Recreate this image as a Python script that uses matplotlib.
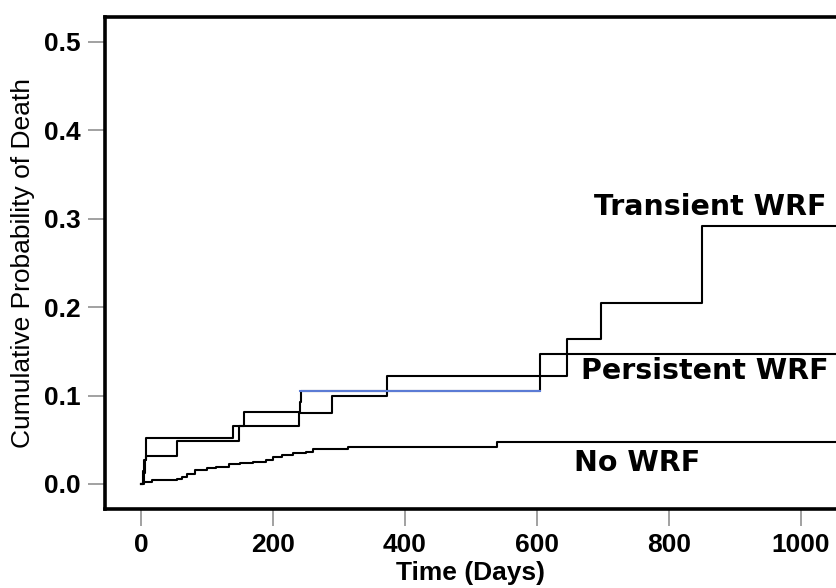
import matplotlib
matplotlib.use("Agg")
import matplotlib.pyplot as plt

# --- data (days, cumulative probability) ---
transient_days = [0, 4, 6, 7, 55, 149, 239, 289, 372, 645, 697, 850]
transient_prob = [0.0, 0.012, 0.027, 0.032, 0.048, 0.065, 0.080, 0.099, 0.122, 0.164, 0.205, 0.292]

persistent_days = [0, 3, 5, 7, 8, 140, 156, 241, 243, 605]
persistent_prob = [0.0, 0.015, 0.027, 0.040, 0.052, 0.066, 0.081, 0.093, 0.1055, 0.147]

nowrf_days = [0, 3, 16, 54, 62, 70, 82, 100, 113, 133, 150, 169, 189, 200, 214, 230, 250, 260, 314, 539]
nowrf_prob = [0.0, 0.0026, 0.0045, 0.0055, 0.008, 0.011, 0.0158, 0.0175, 0.019, 0.0226,
              0.024, 0.025, 0.027, 0.030, 0.033, 0.035, 0.0365, 0.040, 0.042, 0.047]

end_day = 1060
x_ticks = [0, 200, 400, 600, 800, 1000]
y_ticks = [0.0, 0.1, 0.2, 0.3, 0.4, 0.5]

fig = plt.figure(figsize=(8.37, 5.88), dpi=100)
ax = fig.add_axes([0.1251, 0.1344, 0.8749, 0.8372])


def draw_step(days, prob, **kw):
    ax.step(days + [end_day], prob + [prob[-1]], where="post", **kw)


draw_step(nowrf_days, nowrf_prob, color="black", lw=1.5)
draw_step(transient_days, transient_prob, color="black", lw=1.5)
draw_step(persistent_days, persistent_prob, color="black", lw=1.5)
# bluish overlap on the persistent plateau
ax.plot([persistent_days[-3], persistent_days[-1]],
        [persistent_prob[-2], persistent_prob[-2]], color="#5b7bd5", lw=1.5)

ax.set_xlim(-55, 1054.5)
ax.set_ylim(-0.0283, 0.5283)
ax.set_xticks(x_ticks)
ax.set_yticks(y_ticks)
ax.set_xticklabels([str(t) for t in x_ticks])
ax.set_yticklabels([f"{t:.1f}" for t in y_ticks])

for side in ["left", "bottom", "top"]:
    ax.spines[side].set_linewidth(2.6)
    ax.spines[side].set_color("black")
ax.spines["right"].set_visible(False)

ax.tick_params(axis="both", direction="out", length=12, width=1.1, color="#888888",
               labelsize=19, pad=5)
for lab in ax.get_xticklabels() + ax.get_yticklabels():
    lab.set_fontfamily("Liberation Sans")
    lab.set_fontweight("bold")

ax.set_xlabel("Time (Days)", fontsize=19, fontweight="bold", family="Liberation Sans", labelpad=3)
ax.set_ylabel("Cumulative Probability of Death", fontsize=19, family="Liberation Sans", labelpad=7)

txt = dict(fontsize=20.5, fontweight="bold", family="DejaVu Sans", ha="center", va="center")
ax.text(863, 0.3135, "Transient WRF", **txt)
ax.text(854, 0.1279, "Persistent WRF", **txt)
ax.text(752, 0.0237, "No WRF", **txt)

fig.savefig("out.png", dpi=100)
